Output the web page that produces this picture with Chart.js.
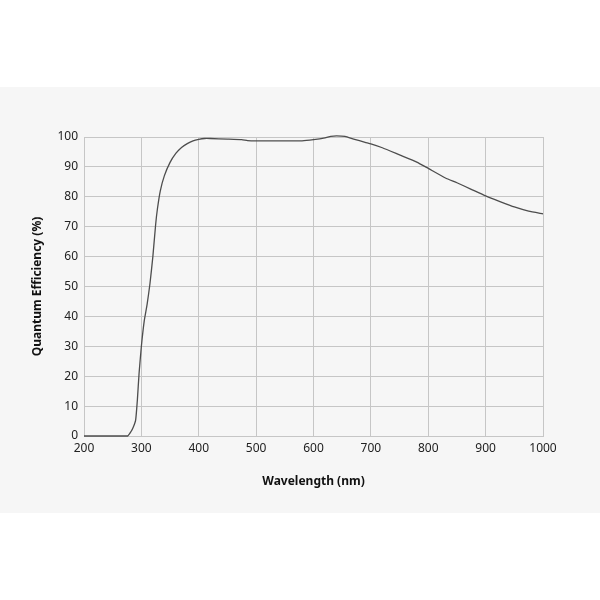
<!DOCTYPE html>
<html>
  <head>
    <meta charset="utf-8">
    <title>Quantum efficiency</title>
    <script src="https://cdn.jsdelivr.net/npm/chart.js@4.4.0/dist/chart.umd.min.js"></script>
    <style>
      html, body { margin:0; padding:0; background:#fff; }
      .band      { position:absolute; left:0; top:87px; width:600px; height:426px; background:#f6f6f6; }
    </style>
  </head>
  <body>
    <div class="band">
      <canvas id="qeChart" width="600" height="426"></canvas>
    </div>
    <script>
      // wavelength in nm, quantum efficiency in %
      var wavelengths = [200, 250, 276, 282, 286, 290, 293, 296, 300, 305, 310, 315, 320, 325, 328,
                         333, 340, 350, 360, 370, 380, 390, 400, 410, 420, 450, 475, 485, 500, 550,
                         580, 600, 620, 630, 640, 655, 670, 690, 700, 720, 750, 780, 800, 830, 850,
                         875, 900, 925, 950, 975, 1000];
      var efficiency  = [0, 0, 0, 1.5, 3, 5.3, 12, 21, 30, 38.5, 44, 51, 60, 71, 76,
                         82, 87, 91.5, 94.5, 96.5, 97.8, 98.7, 99.2, 99.5, 99.5, 99.3, 99.1, 98.8, 98.7, 98.7,
                         98.7, 99.1, 99.7, 100.2, 100.4, 100.2, 99.3, 98.2, 97.7, 96.4, 94.0, 91.6, 89.5, 86.3, 84.7,
                         82.5, 80.3, 78.4, 76.6, 75.2, 74.3];
      var xTicks = [200, 300, 400, 500, 600, 700, 800, 900, 1000];
      var yTicks = [0, 10, 20, 30, 40, 50, 60, 70, 80, 90, 100];

      var points = wavelengths.map(function(w, i) { return {x: w, y: efficiency[i]}; });
      var gridColor = '#c6c6c6';
      var font = { family: "'Noto Sans', sans-serif", size: 12 };
      var titleFont = { family: "'Noto Sans', sans-serif", size: 12, weight: 'bold' };

      new Chart(document.getElementById('qeChart').getContext('2d'), {
        type: 'line',
        data: {
          datasets: [{
            data: points,
            borderColor: '#4d4d4d',
            borderWidth: 1.3,
            pointRadius: 0,
            tension: 0.15,
            clip: false,
            fill: false
          }]
        },
        options: {
          responsive: false,
          animation: false,
          layout: { padding: { top: 50, right: 57, bottom: 0, left: 0 } },
          plugins: { legend: { display: false }, tooltip: { enabled: false } },
          scales: {
            x: {
              type: 'linear',
              min: 200, max: 1000,
              afterBuildTicks: function(s) { s.ticks = xTicks.map(function(v) { return {value: v}; }); },
              afterFit: function(s) { s.height = 77; },
              grid: { color: gridColor, drawTicks: false },
              border: { color: gridColor },
              ticks: { color: '#222', font: font, padding: 5, maxRotation: 0,
                       callback: function(v) { return String(v); } },
              title: { display: true, text: 'Wavelength (nm)', color: '#111', font: titleFont,
                       padding: { top: 0, bottom: 24 } }
            },
            y: {
              min: 0, max: 100,
              afterBuildTicks: function(s) { s.ticks = yTicks.map(function(v) { return {value: v}; }); },
              afterFit: function(s) { s.width = 84; },
              grid: { color: gridColor, drawTicks: false },
              border: { color: gridColor },
              ticks: { color: '#222', font: font, padding: 6 },
              title: { display: true, text: 'Quantum Efficiency (%)', color: '#111', font: titleFont,
                       padding: { top: 30, bottom: 0 } }
            }
          }
        }
      });
    </script>
  </body>
</html>
